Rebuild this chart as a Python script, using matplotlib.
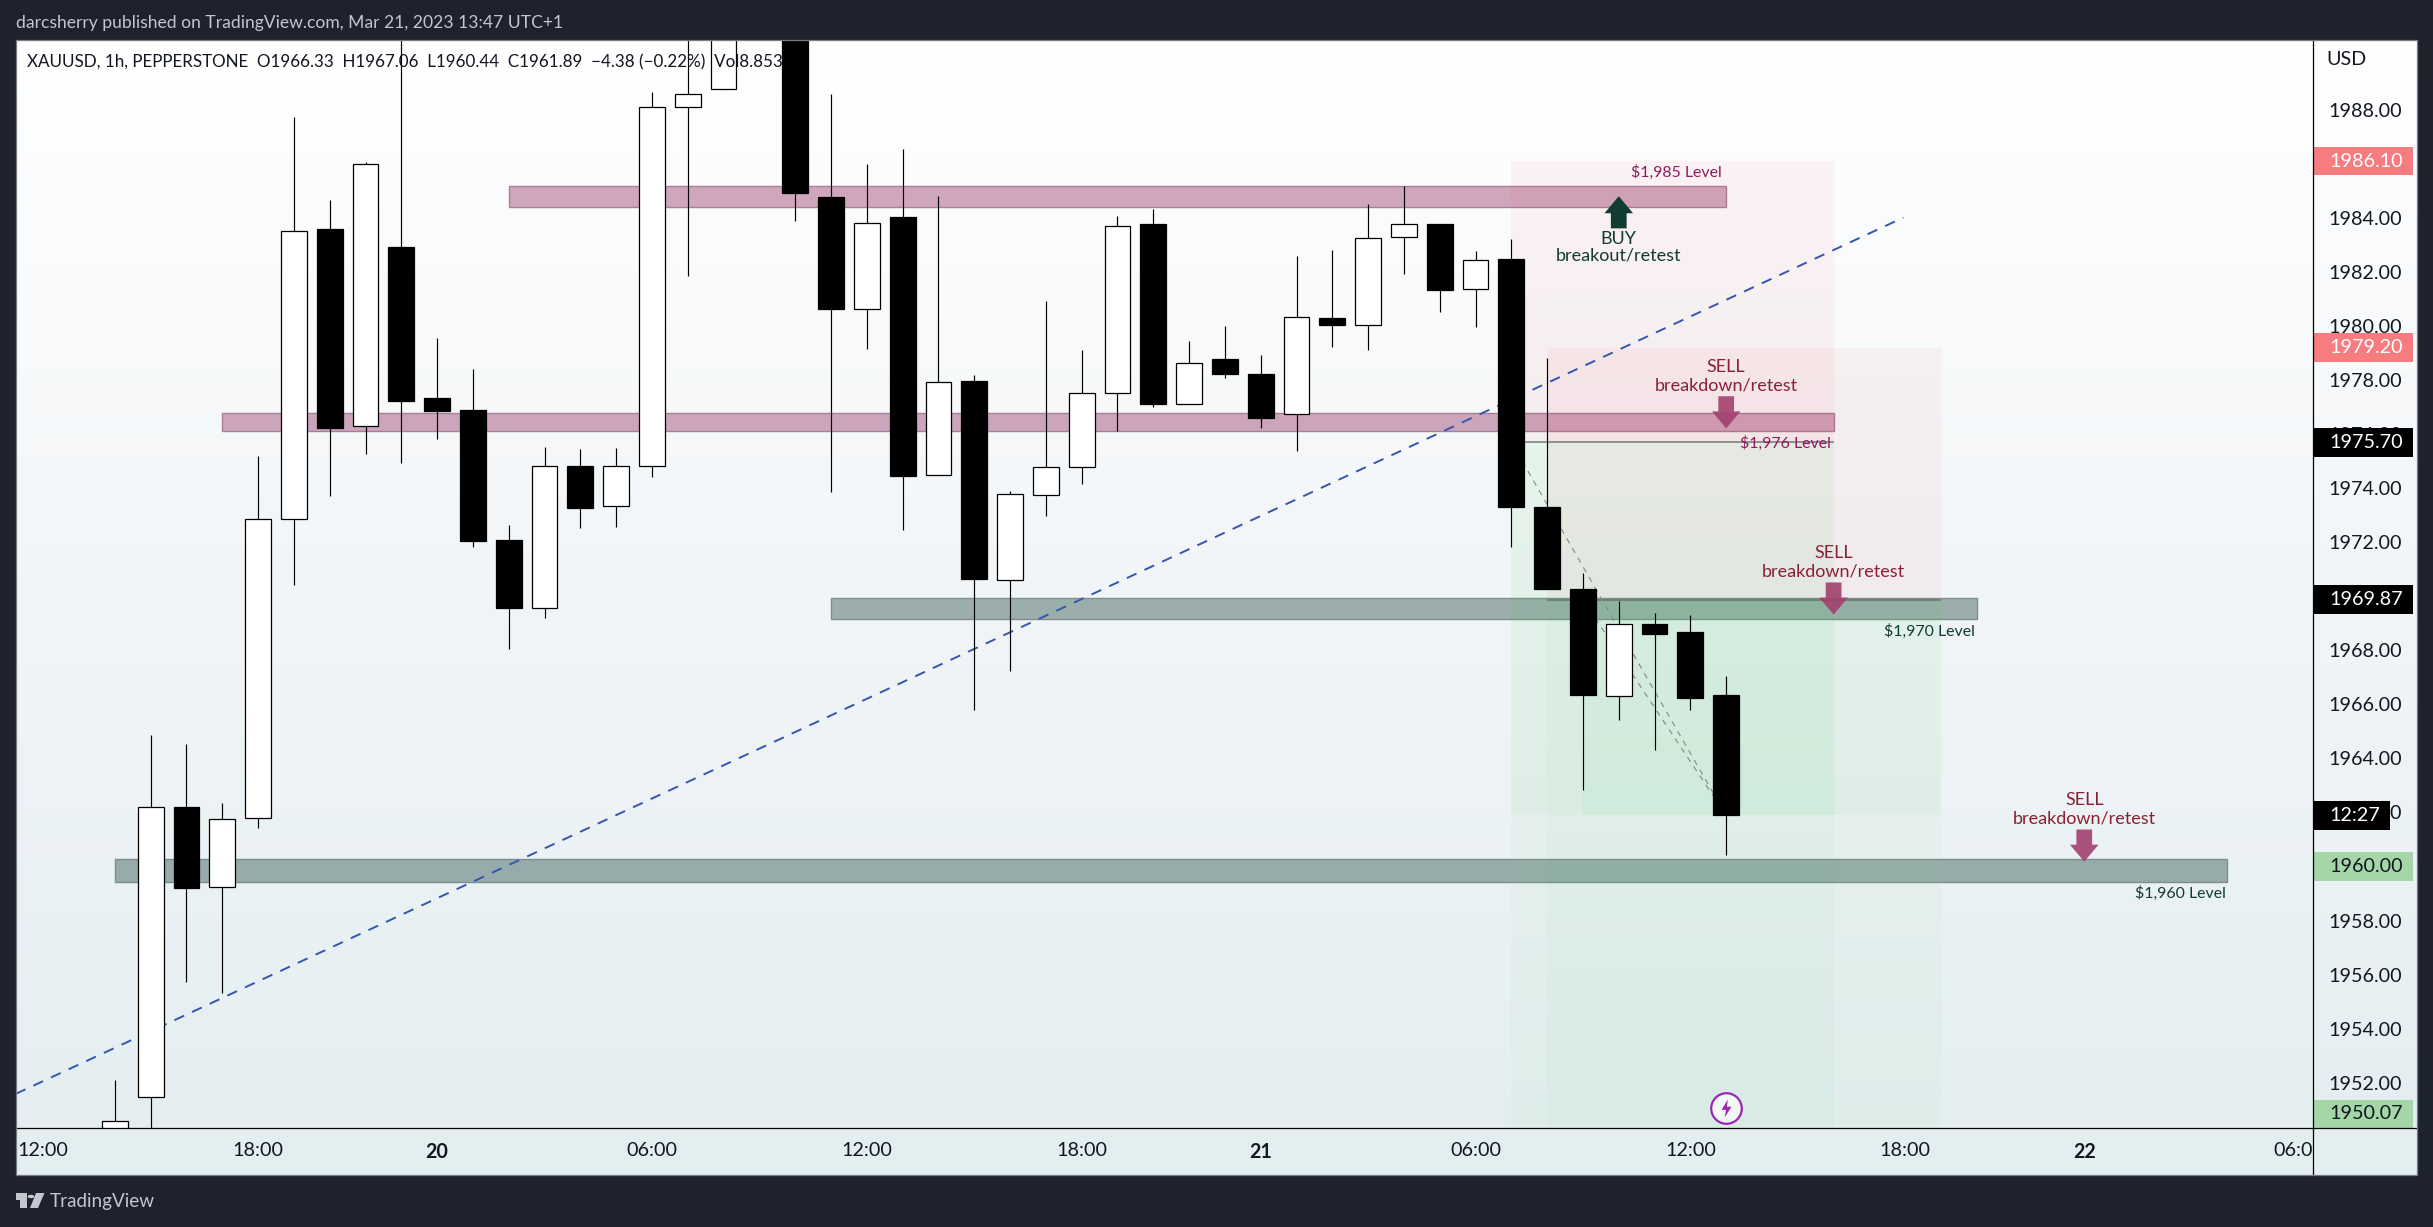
import numpy as np
import matplotlib
matplotlib.use("Agg")
import matplotlib.pyplot as plt
from matplotlib.colors import LinearSegmentedColormap, to_rgba
from matplotlib.lines import Line2D
from matplotlib.patches import Rectangle, Polygon, Circle
from matplotlib.path import Path
from matplotlib.transforms import Bbox, blended_transform_factory

# ---- data -----------------------------------------------------------------
bar_index = list(range(2, 48))
opens = [1950.0, 1951.47, 1962.21, 1959.24, 1961.79, 1972.85, 1983.59, 1976.31, 1982.92, 1977.33,
         1976.89, 1972.08, 1969.55, 1974.83, 1973.33, 1974.81, 1988.10, 1988.77, 1992.5, 1994.0,
         1984.76, 1980.61, 1984.03, 1974.50, 1977.97, 1970.62, 1973.73, 1974.77, 1977.51, 1983.78,
         1977.10, 1978.78, 1978.23, 1976.73, 1980.30, 1980.05, 1983.28, 1983.78, 1981.36, 1982.48,
         1973.31, 1970.27, 1966.32, 1968.98, 1968.68, 1966.33]
highs = [1952.10, 1964.85, 1964.54, 1962.36, 1975.20, 1987.74, 1984.67, 1986.05, 1991.5, 1979.56,
         1978.41, 1972.63, 1975.52, 1975.45, 1975.49, 1988.64, 1991.5, 1993.5, 1994.0, 1994.5,
         1988.59, 1986.00, 1986.54, 1984.81, 1978.19, 1973.89, 1980.93, 1979.11, 1984.07, 1984.33,
         1979.45, 1980.00, 1978.93, 1982.59, 1982.81, 1984.51, 1985.18, 1983.78, 1982.78, 1983.22,
         1978.82, 1970.85, 1969.83, 1969.38, 1969.31, 1967.06]
lows = [1949.5, 1949.8, 1955.74, 1955.33, 1961.44, 1970.40, 1973.72, 1975.28, 1974.94, 1975.83,
        1971.84, 1968.06, 1969.18, 1972.51, 1972.58, 1974.43, 1981.84, 1988.77, 1992.0, 1983.90,
        1973.87, 1979.13, 1972.47, 1974.50, 1965.81, 1967.22, 1972.98, 1974.17, 1976.13, 1977.02,
        1977.10, 1978.09, 1976.24, 1975.39, 1979.24, 1979.12, 1981.94, 1980.53, 1979.98, 1971.84,
        1970.28, 1962.85, 1965.44, 1964.33, 1965.81, 1960.44]
closes = [1950.57, 1962.20, 1959.22, 1961.75, 1972.85, 1983.53, 1976.23, 1986.01, 1977.22, 1976.85,
          1972.05, 1969.56, 1974.81, 1973.28, 1974.81, 1988.10, 1988.57, 1992.5, 1993.5, 1984.91,
          1980.61, 1983.80, 1974.44, 1977.92, 1970.65, 1973.78, 1974.77, 1977.51, 1983.70, 1977.13,
          1978.62, 1978.24, 1976.61, 1980.33, 1980.04, 1983.25, 1983.76, 1981.34, 1982.43, 1973.32,
          1970.28, 1966.35, 1968.97, 1968.62, 1966.25, 1961.89]

time_tick_index = [0, 6, 11, 17, 23, 29, 34, 40, 46, 52, 57, 63]
time_tick_labels = ["12:00", "18:00", "20", "06:00", "12:00", "18:00", "21", "06:00", "12:00", "18:00", "22", "06:00"]
bold_time_labels = ["20", "21", "22"]
price_ticks = [1952, 1954, 1956, 1958, 1960, 1962, 1964, 1966, 1968, 1970, 1972, 1974, 1976, 1978, 1980, 1982, 1984, 1986, 1988]

zone_starts = [13, 5, 22, 2]
zone_ends = [47, 50, 54, 61]
zone_tops = [1985.18, 1976.77, 1969.93, 1960.27]
zone_bottoms = [1984.42, 1976.11, 1969.15, 1959.44]
zone_kinds = ["r", "r", "s", "s"]

level_labels = ["$1,985 Level", "$1,976 Level", "$1,970 Level", "$1,960 Level"]
level_label_index = [46.87, 49.93, 53.95, 60.95]
level_label_price = [1985.67, 1975.65, 1968.69, 1959.01]

sell_index = [47, 50, 57]
sell_tip = [1976.21, 1969.32, 1960.18]
sell_word_price = [1978.49, 1971.61, 1962.48]
sell_note_price = [1977.80, 1970.92, 1961.78]
buy_index = 44
buy_tip = 1984.80
buy_word_price = 1983.20
buy_note_price = 1982.60

short_start = [41, 42]
short_end = [50, 53]
short_stop = [1986.10, 1979.20]
short_entry = [1975.70, 1969.87]
short_target = [1949.0, 1950.07]
short_shade_start = [41, 43]
last_bar = 47
last_close = 1961.89
short_path_start = [41, 43]

trend_index = [-0.77, 51.95]
trend_price = [1951.59, 1984.01]

axis_prices = [1986.10, 1979.20, 1975.70, 1969.87, 1960.00, 1950.07]
axis_price_text = ["1986.10", "1979.20", "1975.70", "1969.87", "1960.00", "1950.07"]
axis_price_bg = ["#F77C80", "#F77C80", "#000000", "#000000", "#A5D6A7", "#A5D6A7"]
axis_price_fg = ["#ffffff", "#ffffff", "#ffffff", "#ffffff", "#131722", "#131722"]
countdown_text = "12:27"

event_index = 47
event_price = 1951.05

header = "darcsherry published on TradingView.com, Mar 21, 2023 13:47 UTC+1"
status = "XAUUSD, 1h, PEPPERSTONE  O1966.33  H1967.06  L1960.44  C1961.89  \u22124.38 (\u22120.22%)  Vol8.853"

# ---- layout ---------------------------------------------------------------
W, H = 2433, 1227
PL, PR, PT, PB = 15.7, 2312.7, 40.0, 1128.2
OR, OB = 2417.4, 1174.6
FONT = "Lato"
plt.rcParams["font.family"] = FONT
NOTE_SIZE = 13.0
LEVEL_SIZE = 11.4
AXIS_SIZE = 14.2


def fx(v):
    return v / W


def fy(v):
    return 1 - v / H


fig = plt.figure(figsize=(W / 100, H / 100), dpi=100, facecolor="#1e222d")

bg = fig.add_axes([fx(PL), fy(OB), fx(OR - PL), fy(PT) - fy(OB)], zorder=0)
bg.axis("off")
cmap = LinearSegmentedColormap.from_list("panel", [(0, "#ffffff"), (0.55, "#f0f4f7"), (1, "#e3eef0")])
bg.imshow(np.linspace(0, 1, 256)[:, None], aspect="auto", cmap=cmap, extent=[0, 1, 0, 1], origin="upper")

ax = fig.add_axes([fx(PL), fy(PB), fx(PR - PL), fy(PT) - fy(PB)], zorder=1)
ax.patch.set_alpha(0)
ax.set_xlim(-0.77, 63.38)
ax.set_ylim(1950.32, 1990.58)
for s in ["top", "left", "right", "bottom"]:
    ax.spines[s].set_visible(False)

# zones
zone_style = {"r": ("#A5517D", "#a87f98"), "s": ("#466961", "#7b908c")}
for a, b, t, u, k in zip(zone_starts, zone_ends, zone_tops, zone_bottoms, zone_kinds):
    fc, ec = zone_style[k]
    ax.add_patch(Rectangle((a, u), b - a, t - u, facecolor=to_rgba(fc, 0.5), edgecolor=ec, lw=1.0, zorder=1))

# short position tools
RED, GRN = "#F23645", "#4CD060"
for a, b, st, en, tg, ss in zip(short_start, short_end, short_stop, short_entry, short_target, short_shade_start):
    ax.add_patch(Rectangle((a, en), b - a, st - en, facecolor=RED, alpha=0.05, lw=0, zorder=1.5))
    ax.add_patch(Rectangle((a, tg), b - a, en - tg, facecolor=GRN, alpha=0.035, lw=0, zorder=1.5))
    ax.add_patch(Rectangle((ss, last_close), b - ss, en - last_close, facecolor=GRN, alpha=0.05, lw=0, zorder=1.5))
    ax.plot([a, b], [en, en], color="#5f6b66", lw=1.2, alpha=0.8, zorder=1.8, solid_capstyle="butt")
for a, en in zip(short_path_start, short_entry):
    ax.plot([a, last_bar], [en, last_close], color="#7f8a85", lw=0.8, ls=(0, (5, 5)), zorder=1.8)

# trend line
ax.plot(trend_index, trend_price, color="#3556ad", lw=1.4, ls=(0, (5.5, 4.5)), zorder=2)

# candles
for i, o, h, l, c in zip(bar_index, opens, highs, lows, closes):
    ax.vlines(i, l, h, color="black", lw=0.85, zorder=3)
    up = c >= o
    ax.bar(i, abs(c - o), bottom=min(o, c), width=0.72, facecolor="white" if up else "black",
           edgecolor="black", linewidth=0.9, zorder=3.1)

# status line, drawn over the candles
ax.annotate(status, xy=(0, 1), xycoords="axes fraction", xytext=(11.5 * 0.72, -22.7 * 0.72),
            textcoords="offset points", ha="left", va="center", fontsize=12.25, color="#131722",
            zorder=3.5, annotation_clip=False)


# arrows
def arrow(i, tip, direction, color, alpha):
    half_head, half_shaft = 0.40, 0.22
    head, total = 0.63, 1.19
    base = tip - direction * head
    tail = tip - direction * total
    pts = [(i, tip), (i + half_head, base), (i + half_shaft, base), (i + half_shaft, tail),
           (i - half_shaft, tail), (i - half_shaft, base), (i - half_head, base)]
    ax.add_patch(Polygon(pts, closed=True, facecolor=color, edgecolor="none", alpha=alpha, zorder=4))


arrow(buy_index, buy_tip, 1, "#113c31", 1.0)
ax.text(buy_index, buy_word_price, "BUY", ha="center", va="center", fontsize=NOTE_SIZE, color="#123c32", zorder=5)
ax.text(buy_index, buy_note_price, "breakout/retest", ha="center", va="center", fontsize=NOTE_SIZE, color="#123c32", zorder=5)
for i, t, w, n in zip(sell_index, sell_tip, sell_word_price, sell_note_price):
    arrow(i, t, -1, "#a2406f", 0.9)
    ax.text(i, w, "SELL", ha="center", va="center", fontsize=NOTE_SIZE, color="#8a2035", zorder=5)
    ax.text(i, n, "breakdown/retest", ha="center", va="center", fontsize=NOTE_SIZE, color="#8a2035", zorder=5)

level_colors = ["#8e1a5e", "#8e1a5e", "#123c32", "#123c32"]
for s, i, p, col in zip(level_labels, level_label_index, level_label_price, level_colors):
    ax.text(i, p, s, ha="right", va="center", fontsize=LEVEL_SIZE, color=col, zorder=5)

# event marker
ax.plot([event_index], [event_price], marker="o", ms=22, mfc="#f2f7f7", mec="#9c27b0", mew=1.6, zorder=5)
bolt = Path([(0.15, 1), (-0.55, -0.15), (-0.05, -0.15), (-0.2, -1), (0.55, 0.2), (0.05, 0.2), (0.15, 1)], closed=True)
ax.plot([event_index], [event_price], marker=bolt, ms=13, mfc="#9c27b0", mec="none", zorder=6)

# axes ticks
ax.yaxis.tick_right()
ax.set_yticks(price_ticks, [f"{p:.2f}" for p in price_ticks])
ax.tick_params(axis="y", length=0, pad=11.5, labelsize=AXIS_SIZE, labelcolor="#131722")
ax.set_xticks(time_tick_index, time_tick_labels)
ax.tick_params(axis="x", length=0, pad=10, labelsize=AXIS_SIZE, labelcolor="#131722")
fig.canvas.draw()
for lab in ax.get_xticklabels():
    if lab.get_text() in bold_time_labels:
        lab.set_fontweight("bold")
clip = Bbox([[0, 0], [PR, H]])
last = ax.get_xticklabels()[-1]
last.set_clip_box(clip)
last.set_clip_on(True)

# price labels on the axis
trans = blended_transform_factory(ax.transAxes, ax.transData)
axw = PR - PL
box_h = 1.06
ymin = ax.get_ylim()[0]
for p, s, b, f in zip(axis_prices, axis_price_text, axis_price_bg, axis_price_fg):
    yc = max(p, ymin + box_h / 2)
    ax.add_patch(Rectangle((1, yc - box_h / 2), 100.3 / axw, box_h, transform=trans, facecolor=b, edgecolor="none",
                           clip_on=False, zorder=8))
    ax.text(1 + 16.3 / axw, yc, s, transform=trans, ha="left", va="center", fontsize=AXIS_SIZE, color=f, clip_on=False, zorder=9)
ax.add_patch(Rectangle((1, last_close - box_h / 2), 77.3 / axw, box_h, transform=trans, facecolor="#000000",
                       edgecolor="none", clip_on=False, zorder=8))
ax.text(1 + 16.3 / axw, last_close, countdown_text, transform=trans, ha="left", va="center", fontsize=AXIS_SIZE,
        color="#ffffff", clip_on=False, zorder=9)
ax.text(1 + 14 / axw, 1990.58 - 20 / 27.03, "USD", transform=trans, ha="left", va="center", fontsize=AXIS_SIZE,
        color="#131722", clip_on=False, zorder=9)

# frame lines, header and footer on the figure
fig.add_artist(Line2D([fx(PR), fx(PR)], [fy(PT), fy(OB)], color="black", lw=0.9))
fig.add_artist(Line2D([fx(PL), fx(OR)], [fy(PB), fy(PB)], color="black", lw=0.9))
fig.add_artist(Rectangle((fx(PL), fy(OB)), fx(OR - PL), fy(PT) - fy(OB), transform=fig.transFigure, fill=False,
                         edgecolor="#787b86", lw=0.9, zorder=5))
fig.text(fx(15.5), fy(23), header, ha="left", va="center", fontsize=12.6, color="#c3c6ce")
fig.text(fx(50), fy(1201.5), "TradingView", ha="left", va="center", fontsize=13.6, color="#c3c6ce")

# logo
logo = "#c3c6ce"
fig.add_artist(Rectangle((fx(15.5), fy(1200)), fx(11), fy(1193) - fy(1200), transform=fig.transFigure, facecolor=logo, edgecolor="none"))
fig.add_artist(Rectangle((fx(20), fy(1208)), fx(6.5), fy(1193) - fy(1208), transform=fig.transFigure, facecolor=logo, edgecolor="none"))
fig.add_artist(Circle((fx(31), fy(1196.5)), fx(3.4), transform=fig.transFigure, facecolor=logo, edgecolor="none"))
fig.add_artist(Polygon([(fx(36), fy(1193)), (fx(44.5), fy(1193)), (fx(38), fy(1208)), (fx(30), fy(1208))], closed=True,
                       transform=fig.transFigure, facecolor=logo, edgecolor="none"))

fig.savefig("out.png", dpi=100, facecolor=fig.get_facecolor())
